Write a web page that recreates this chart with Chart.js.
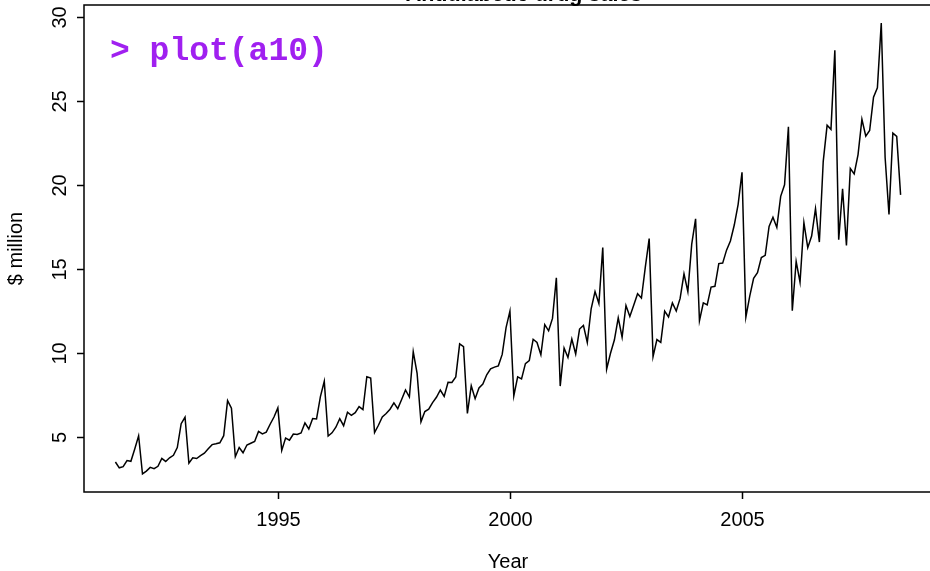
<!DOCTYPE html>
<html lang="en">
<head>
<meta charset="utf-8">
<title>Antidiabetic drug sales</title>
<script src="https://cdn.jsdelivr.net/npm/chart.js@4.4.1/dist/chart.umd.min.js"></script>
<style>
  html, body { margin: 0; padding: 0; background: #fff; overflow: hidden; }
  #wrap { width: 940px; height: 571px; }
</style>
</head>
<body>
<div id="wrap"><canvas id="chart" width="940" height="571"></canvas></div>
<script>
// monthly series a10, starting July 1991
const startYear = 1991.5;
const sales = [
  3.526591, 3.180891, 3.252221, 3.611003, 3.565869, 4.306371,
  5.088335, 2.814520, 2.985811, 3.204780, 3.127578, 3.270523, 3.737851, 3.558776, 3.777202, 3.924490, 4.386531, 5.810549,
  6.192068, 3.450857, 3.772307, 3.734303, 3.905399, 4.049687, 4.315566, 4.562185, 4.608662, 4.667851, 5.093841, 7.179962,
  6.731473, 3.841278, 4.394076, 4.075341, 4.540645, 4.645615, 4.752607, 5.350605, 5.204455, 5.301651, 5.773742, 6.204593,
  6.749484, 4.216067, 4.949349, 4.823045, 5.194754, 5.170787, 5.256742, 5.855277, 5.490729, 6.115293, 6.088473, 7.416598,
  8.329452, 5.069796, 5.262557, 5.597126, 6.110296, 5.689161, 6.486849, 6.300569, 6.467476, 6.828629, 6.649078, 8.606937,
  8.524471, 5.277918, 5.714303, 6.214529, 6.411929, 6.667716, 7.050831, 6.704919, 7.250988, 7.819733, 7.398101, 10.096233,
  8.798513, 5.918261, 6.534493, 6.675736, 7.064201, 7.383381, 7.813496, 7.431892, 8.275117, 8.260441, 8.596156, 10.558939,
  10.391416, 6.421535, 8.062619, 7.297739, 7.936916, 8.165323, 8.717420, 9.070964, 9.177113, 9.251887, 9.933136, 11.532974,
  12.511462, 7.457199, 8.591191, 8.474000, 9.386803, 9.560399, 10.834295, 10.643751, 9.908162, 11.710041, 11.340151, 12.079132,
  14.497581, 8.049275, 10.312891, 9.753358, 10.850382, 9.961719, 11.443601, 11.659239, 10.647060, 12.652134, 13.674466, 12.965735,
  16.300269, 9.053485, 10.002449, 10.788750, 12.106705, 10.954101, 12.844566, 12.196500, 12.854748, 13.542004, 13.287640, 15.134918,
  16.828350, 9.800215, 10.816994, 10.654223, 12.512323, 12.161210, 12.998046, 12.517276, 13.268658, 14.733622, 13.669382, 16.503966,
  18.003768, 11.938030, 12.997900, 12.882645, 13.943447, 13.989472, 15.339097, 15.370764, 16.142005, 16.685754, 17.636728, 18.869325,
  20.778723, 12.154552, 13.402392, 14.459239, 14.795102, 15.705248, 15.829550, 17.554701, 18.100864, 17.496668, 19.347265, 20.031291,
  23.486694, 12.536987, 15.467018, 14.233539, 17.783058, 16.291602, 16.980282, 18.612189, 16.623343, 21.430241, 23.575517, 23.334206,
  28.038383, 16.763869, 19.792754, 16.427305, 21.000742, 20.681002, 21.834890, 23.930204, 22.930357, 23.263340, 25.250030, 25.806090,
  29.665356, 21.654285, 18.264945, 23.107677, 22.912510, 19.431740
];
const xTicks = [1995, 2000, 2005];
const yTicks = [5, 10, 15, 20, 25, 30];

const points = sales.map((v, i) => ({ x: startYear + i / 12, y: v }));

// R style 4% range extension
const xMinD = startYear, xMaxD = startYear + (sales.length - 1) / 12;
const yMinD = Math.min(...sales), yMaxD = Math.max(...sales);
const xPad = (xMaxD - xMinD) * 0.04, yPad = (yMaxD - yMinD) * 0.04;

const FONT = "'Liberation Sans', Arial, sans-serif";

const rDecor = {
  id: "rDecor",
  afterDraw(chart) {
    const ctx = chart.ctx;
    const a = chart.chartArea;
    const xs = chart.scales.x, ys = chart.scales.y;
    ctx.save();
    // box
    ctx.strokeStyle = "#000";
    ctx.lineWidth = 1.5;
    ctx.strokeRect(a.left, a.top, a.right - a.left, a.bottom - a.top);
    // ticks + labels
    ctx.fillStyle = "#000";
    ctx.font = "20px " + FONT;
    ctx.textAlign = "center";
    ctx.textBaseline = "middle";
    ctx.beginPath();
    xTicks.forEach(t => {
      const px = Math.round(xs.getPixelForValue(t)) + 0.5;
      ctx.moveTo(px, a.bottom); ctx.lineTo(px, a.bottom + 7);
      ctx.fillText(String(t), px, a.bottom + 28);
    });
    yTicks.forEach(t => {
      const py = Math.round(ys.getPixelForValue(t)) + 0.5;
      ctx.moveTo(a.left, py); ctx.lineTo(a.left - 7, py);
      ctx.save();
      ctx.translate(a.left - 24, py);
      ctx.rotate(-Math.PI / 2);
      ctx.fillText(String(t), 0, 0);
      ctx.restore();
    });
    ctx.stroke();
    // axis titles
    ctx.fillText("Year", (a.left + a.right) / 2, 562);
    ctx.save();
    ctx.translate(16, (a.top + a.bottom) / 2);
    ctx.rotate(-Math.PI / 2);
    ctx.fillText("$ million", 0, 0);
    ctx.restore();
    // main title (mostly above the picture)
    ctx.font = "bold 21.5px " + FONT;
    ctx.textBaseline = "alphabetic";
    ctx.fillText("Antidiabetic drug sales", 524, 0.5);
    // console text
    ctx.fillStyle = "#A020F0";
    ctx.font = "bold 33px 'Liberation Mono', 'Courier New', monospace";
    ctx.textAlign = "left";
    ctx.fillText("> plot(a10)", 110, 60);
    ctx.restore();
  }
};

new Chart(document.getElementById("chart"), {
  type: "line",
  data: {
    datasets: [{
      data: points,
      borderColor: "#000",
      borderWidth: 1.5,
      pointRadius: 0,
      tension: 0,
      fill: false
    }]
  },
  options: {
    responsive: false,
    animation: false,
    layout: { padding: { top: 5, right: 8, left: 0, bottom: 0 } },
    plugins: { legend: { display: false }, tooltip: { enabled: false }, title: { display: false } },
    scales: {
      x: {
        type: "linear",
        min: xMinD - xPad,
        max: xMaxD + xPad,
        grid: { display: false },
        border: { display: false },
        ticks: { display: false },
        afterFit(s) { s.height = 79; }
      },
      y: {
        type: "linear",
        min: yMinD - yPad,
        max: yMaxD + yPad,
        grid: { display: false },
        border: { display: false },
        ticks: { display: false },
        afterFit(s) { s.width = 84; }
      }
    }
  },
  plugins: [rDecor]
});
</script>
</body>
</html>
